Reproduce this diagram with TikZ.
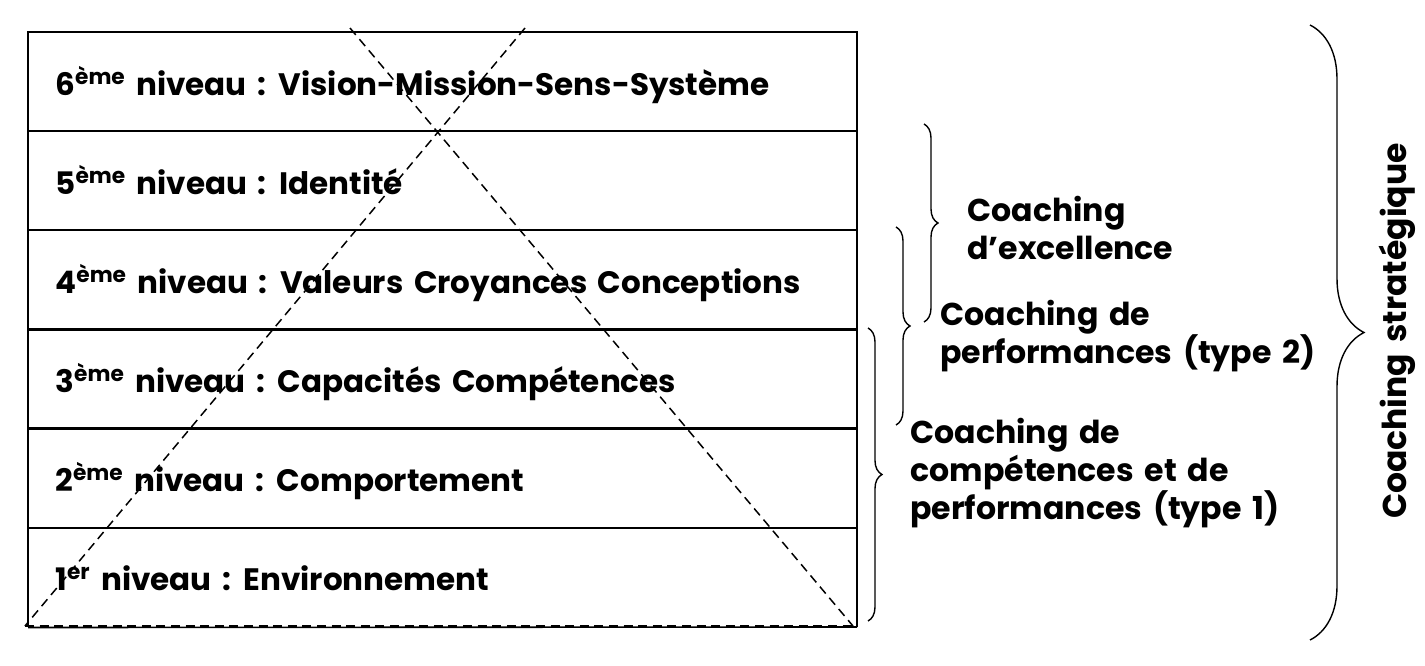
\documentclass[tikz,border=0pt]{standalone}
\usepackage{fontspec}
\setmainfont{Poppins}[WordSpace=1.6]
\usetikzlibrary{decorations.pathreplacing}
\begin{document}
\begin{tikzpicture}[x=0.5pt,y=-0.5pt,
  tableline/.style={line width=1.2pt},
  diag/.style={line width=0.75pt, dash pattern=on 4.5pt off 2.8pt},
  rowtext/.style={anchor=base west, inner sep=0pt, font=\bfseries\fontsize{15.5}{18}\selectfont},
  sidetext/.style={anchor=north west, inner sep=0pt, align=left, font=\bfseries\fontsize{15.8}{19}\selectfont},
  bracestyle/.style={line width=0.7pt, decorate}]
\useasboundingbox (0,0) rectangle (1425,665);
% table
\coordinate (tl) at (28,32);
\coordinate (br) at (857,627);
\draw[tableline] (28,627) -- (tl) -- (857,32) -- (br);
\foreach \y in {131,230,329.5,428.5,528}{
  \draw[tableline] (28,\y) -- (857,\y);
}
\draw[line width=0.8pt] (28,627.5) -- (br);
% dashed triangle
\coordinate (aL) at (350,28);
\coordinate (aR) at (525,28);
\coordinate (bL) at (25,626);
\coordinate (bR) at (853,626);
\draw[diag] (aL) -- (bR);
\draw[diag] (aR) -- (bL);
\draw[diag, line width=1.2pt] (bL) -- (bR);
% row texts
\node[rowtext] (r6) at (55,95) {6\textsuperscript{ème} niveau : Vision-Mission-Sens-Système};
\node[rowtext] (r5) at (55,194) {5\textsuperscript{ème} niveau : Identité};
\node[rowtext] (r4) at (55,293) {4\textsuperscript{ème} niveau : Valeurs Croyances Conceptions};
\node[rowtext] (r3) at (55,392) {3\textsuperscript{ème} niveau : Capacités Compétences};
\node[rowtext] (r2) at (55,491) {2\textsuperscript{ème} niveau : Comportement};
\node[rowtext] (r1) at (55,590) {1\textsuperscript{er} niveau : Environnement};
% braces
\coordinate (b1t) at (924,124);
\coordinate (b1b) at (924,322);
\coordinate (b2t) at (896,227);
\coordinate (b2b) at (896,425);
\coordinate (b3t) at (868,328);
\coordinate (b3b) at (868,621);
\coordinate (b4t) at (1310,25);
\coordinate (b4b) at (1310,640);
\draw[bracestyle, decoration={brace, amplitude=7pt}] (b1t) -- (b1b);
\draw[bracestyle, decoration={brace, amplitude=7pt}] (b2t) -- (b2b);
\draw[bracestyle, decoration={brace, amplitude=7pt}] (b3t) -- (b3b);
\draw[bracestyle, decoration={brace, amplitude=27pt}] (b4t) -- (b4b);
% side texts
\node[sidetext] (t1) at (967,196) {Coaching\\d’excellence};
\node[sidetext] (t2) at (940,300) {Coaching de\\performances (type 2)};
\node[sidetext] (t3) at (910,418) {Coaching de\\compétences et de\\performances (type 1)};
\node[rotate=90, inner sep=0pt, font=\bfseries\fontsize{16.5}{19}\selectfont] (t4) at (1397,331) {Coaching stratégique};
\end{tikzpicture}
\end{document}
